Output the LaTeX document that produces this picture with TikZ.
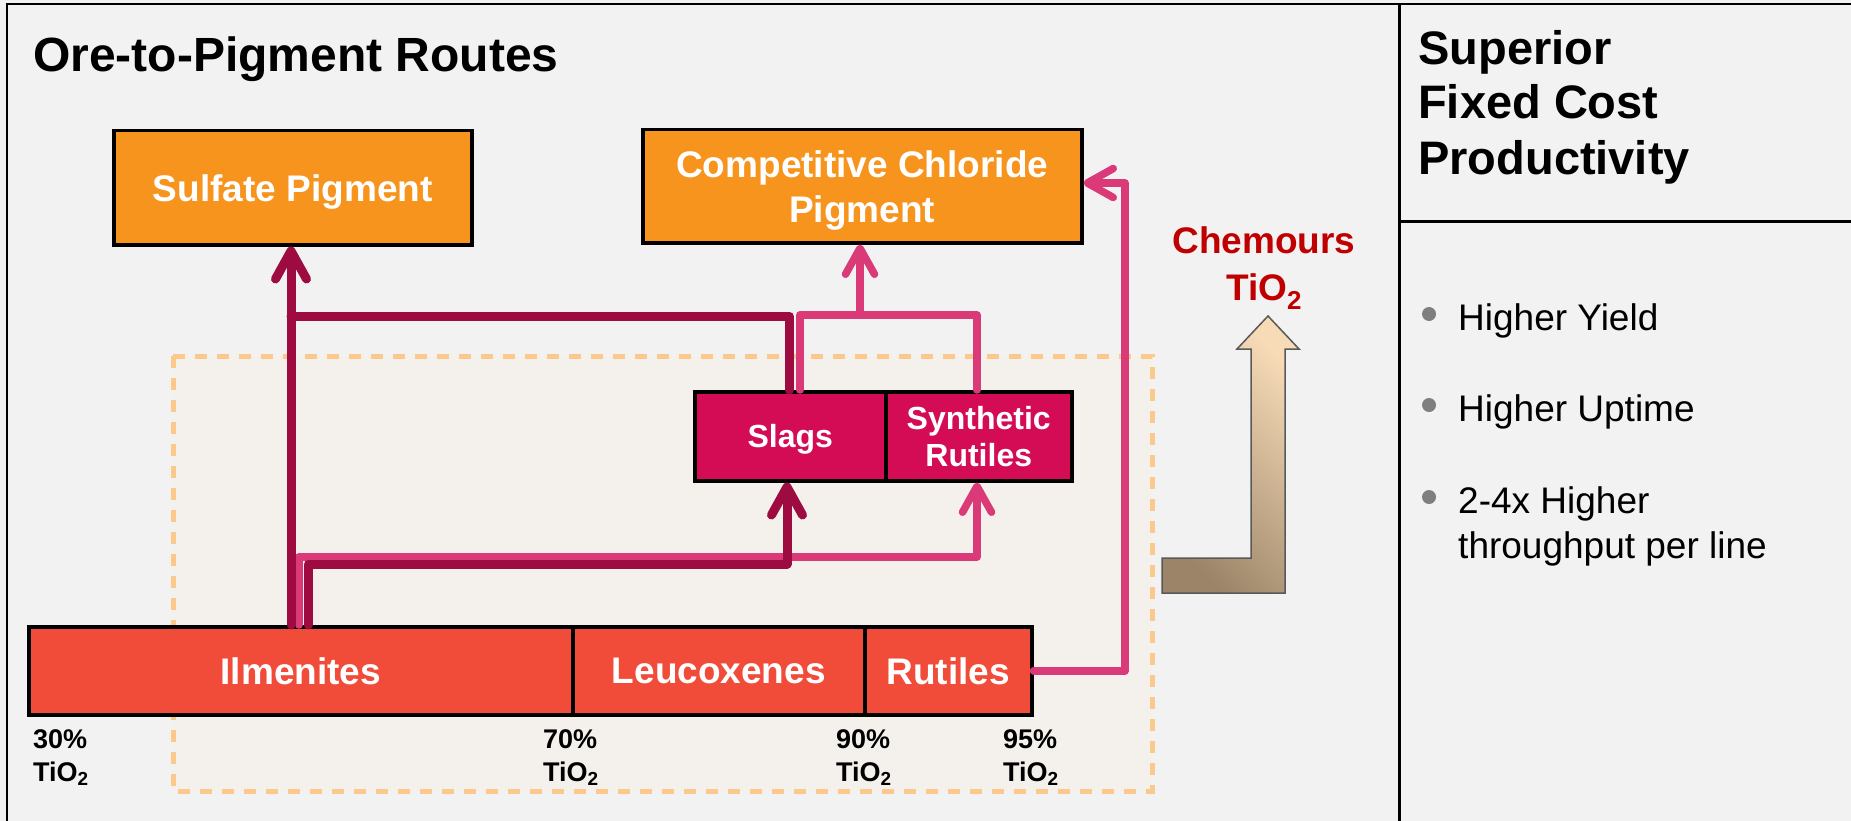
\documentclass[tikz,border=0pt]{standalone}
\usepackage{fontspec}
\setmainfont{Liberation Sans}
\usetikzlibrary{arrows.meta}
\definecolor{bg}{HTML}{F2F2F2}
\definecolor{zone}{HTML}{F4F1EC}
\definecolor{zoneline}{HTML}{FCC98D}
\definecolor{orangebox}{HTML}{F7941E}
\definecolor{slagbox}{HTML}{D30C55}
\definecolor{orebox}{HTML}{F14B39}
\definecolor{darkroute}{HTML}{9E0B40}
\definecolor{pinkroute}{HTML}{DB3A78}
\definecolor{chemred}{HTML}{C00000}
\definecolor{bulletgray}{HTML}{7F7F7F}
\definecolor{arrowdark}{HTML}{9B8468}
\definecolor{arrowlight}{HTML}{F7DBB7}
\begin{document}
\begin{tikzpicture}[x=1pt,y=-1pt,
  box/.style={draw=black, line width=3.5pt, text=white, align=center, inner sep=0pt,
    anchor=north west, text depth=0pt, font=\bfseries\fontsize{37}{45}\selectfont},
  pigmentbox/.style={box, fill=orangebox},
  slagnode/.style={box, fill=slagbox, font=\bfseries\fontsize{32}{37}\selectfont},
  orenode/.style={box, fill=orebox},
  shadowed/.style={preaction={draw=black, draw opacity=0.12, transform canvas={shift={(2.5pt,-2.5pt)}}}},
  darkline/.style={draw=darkroute, line width=9pt, line join=round, line cap=round, shadowed},
  pinkline/.style={draw=pinkroute, line width=7.5pt, line join=round, line cap=round, shadowed},
  darktip/.style={-{Straight Barb[length=28pt,width=31pt,round]}},
  pinktip/.style={-{Straight Barb[length=26pt,width=29pt,round]}},
  pct/.style={anchor=base west, inner sep=0pt, font=\bfseries\fontsize{27}{30}\selectfont},
  headline/.style={anchor=base west, inner sep=0pt, font=\bfseries\fontsize{47}{55}\selectfont},
  bullettext/.style={anchor=base west, inner sep=0pt, font=\fontsize{37}{45}\selectfont},
  bulletdot/.style={circle, fill=bulletgray, inner sep=0pt, minimum size=14pt}
]
\useasboundingbox (0,0) rectangle (1851,821);
\fill[bg] (0,0) rectangle (1851,821);
% frame
\draw[line width=2.5pt] (7,821) -- (7,4) -- (1851,4);
\draw[line width=3pt] (1399,4) -- (1399,821);
\draw[line width=3pt] (1399,221) -- (1851,221);
% title
\node[headline, font=\bfseries\fontsize{48}{54}\selectfont] (title) at (33,72) {Ore-to-Pigment Routes};
% dashed zone
\draw[draw=zoneline, fill=zone, line width=5pt, dash pattern=on 12pt off 10pt] (173,356) rectangle (1152,791);
% boxes
\node[pigmentbox, minimum width=358pt, minimum height=114pt] (sulf) at (112,129) {Sulfate Pigment};
\node[pigmentbox, minimum width=439pt, minimum height=113pt] (chl) at (641,128) {Competitive Chloride\\Pigment};
\node[slagnode, minimum width=191pt, minimum height=89pt] (slag) at (693,390) {Slags};
\node[slagnode, minimum width=186pt, minimum height=89pt] (syn) at (884,390) {Synthetic\\Rutiles};
\node[orenode, minimum width=544pt, minimum height=88pt] (ilm) at (27,625) {Ilmenites};
\node[orenode, minimum width=292pt, minimum height=88pt] (leu) at (571,625) {Leucoxenes};
\node[orenode, minimum width=167pt, minimum height=88pt] (rut) at (863,625) {Rutiles};
% junction coordinates
\coordinate (j1) at (291,316);
\coordinate (dslag) at (789,316);
\coordinate (d3a) at (308,564);
\coordinate (d3b) at (787,564);
\coordinate (p4a) at (299,557);
\coordinate (p4b) at (977,557);
\coordinate (p5a) at (800,315);
\coordinate (p5b) at (977,315);
\coordinate (p5c) at (860,315);
\coordinate (p6b) at (1125,183);
% pink routes
\draw[pinkline, pinktip] (p4a |- ilm.north) -- (p4a) -- (p4b) -- (p4b |- syn.south);
\draw[pinkline] (p5a |- slag.north) -- (p5a) -- (p5b) -- (p5b |- syn.north);
\draw[pinkline, pinktip] (p5c) -- (p5c |- chl.south);
\draw[pinkline, pinktip] (rut.east) -- (rut.east -| p6b) -- (p6b) -- (p6b -| chl.east);
% dark routes
\draw[darkline, darktip] (j1 |- ilm.north) -- (j1 |- sulf.south);
\draw[darkline] (dslag |- slag.north) -- (dslag) -- (j1);
\draw[darkline, darktip] (d3a |- ilm.north) -- (d3a) -- (d3b) -- (d3b |- slag.south);
% bent arrow
\draw[line width=1.5pt, draw=black!65, line join=miter, top color=arrowlight, bottom color=arrowdark, shading angle=-45]
  (1162,558) -- (1162,593) -- (1285,593) -- (1285,349) -- (1299,349) -- (1268,316)
  -- (1237,349) -- (1251,349) -- (1251,558) -- cycle;
% Chemours label
\node[anchor=base, inner sep=0pt, text=chemred, font=\bfseries\fontsize{37}{45}\selectfont] (chem1) at (1264,253) {Chemours};
\node[anchor=base, inner sep=0pt, text=chemred, font=\bfseries\fontsize{37}{45}\selectfont] (chem2) at (1264,300) {TiO\textsubscript{2}};
% percentage labels
\node[pct] (p30) at (33,748) {30\%};
\node[pct] (t30) at (33,781) {TiO\textsubscript{2}};
\node[pct] (p70) at (543,748) {70\%};
\node[pct] (t70) at (543,781) {TiO\textsubscript{2}};
\node[pct] (p90) at (836,748) {90\%};
\node[pct] (t90) at (836,781) {TiO\textsubscript{2}};
\node[pct] (p95) at (1003,748) {95\%};
\node[pct] (t95) at (1003,781) {TiO\textsubscript{2}};
% right panel
\node[headline] (h1) at (1418,65) {Superior};
\node[headline] (h2) at (1418,119) {Fixed Cost};
\node[headline] (h3) at (1418,175) {Productivity};
\node[bulletdot] (b1) at (1429,314) {};
\node[bullettext] (t1) at (1458,330) {Higher Yield};
\node[bulletdot] (b2) at (1429,405) {};
\node[bullettext] (t2) at (1458,421) {Higher Uptime};
\node[bulletdot] (b3) at (1429,497) {};
\node[bullettext] (t3) at (1458,513) {2-4x Higher};
\node[bullettext] (t4) at (1458,558) {throughput per line};
\end{tikzpicture}
\end{document}
